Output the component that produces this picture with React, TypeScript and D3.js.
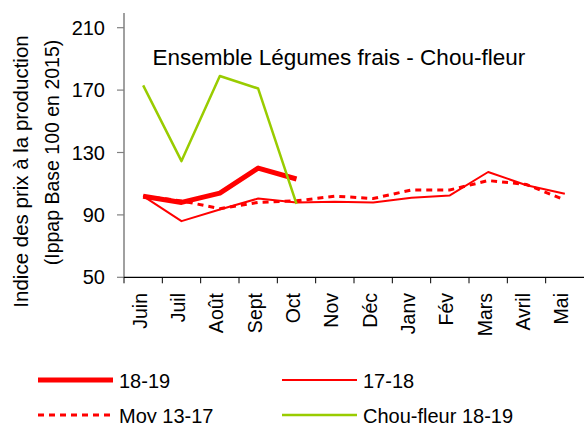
import React from 'react';
import * as d3 from 'd3';

const months = ['Juin', 'Juil', 'Août', 'Sept', 'Oct', 'Nov', 'Déc', 'Janv', 'Fév', 'Mars', 'Avril', 'Mai'];
const s1819 = [102, 98, 104, 120, 113];
const s1718 = [102, 86, 93.5, 100.5, 98, 98.5, 98, 101, 102.5, 117.5, 109, 103.5];
const moy1317 = [102, 99, 94, 98, 99, 102, 100.5, 106, 106, 112, 109.5, 99.5];
const chouFleur = [173, 124.5, 179, 171, 97];
const yTicks = [50, 90, 130, 170, 210];

const RED = '#ff0000';
const GREEN = '#99cc00';
const font = '"Liberation Sans", Arial, sans-serif';

const width = 584;
const height = 423;
const margin = { top: 27.7, left: 124, right: 0, bottom: 145.7 };

const App: React.FC = () => {
  const x = d3.scaleBand<string>()
    .domain(months)
    .range([margin.left, width - margin.right]);

  const y = d3.scaleLinear()
    .domain([50, 210])
    .range([height - margin.bottom, margin.top]);

  const cx = (i: number) => (x(months[i]) as number) + x.bandwidth() / 2;

  const line = d3.line<number>()
    .x((_, i) => cx(i))
    .y(d => y(d));

  const y0 = y(50);

  // legend entries: [label, color, width, dash, col, row]
  const legend = [
    { label: '18-19', color: RED, w: 5, dash: undefined, col: 0, row: 0 },
    { label: '17-18', color: RED, w: 2, dash: undefined, col: 1, row: 0 },
    { label: 'Moy 13-17', color: RED, w: 3, dash: '6,5', col: 0, row: 1 },
    { label: 'Chou-fleur 18-19', color: GREEN, w: 2.5, dash: undefined, col: 1, row: 1 },
  ];

  return (
    <div style={{ position: 'absolute', left: 0, top: 0 }}>
      <svg width={width} height={height} style={{ display: 'block', background: '#fff' }}>
        {/* y axis */}
        <line x1={margin.left} x2={margin.left} y1={13} y2={y0} stroke="#808080" strokeWidth={1.5} />
        {yTicks.map(t => (
          <g key={t}>
            <line x1={margin.left - 7} x2={margin.left} y1={y(t)} y2={y(t)} stroke="#808080" strokeWidth={1.2} />
            <text x={105} y={y(t)} dy="0.35em" textAnchor="end" fontFamily={font} fontSize={20} fill="#000">
              {t}
            </text>
          </g>
        ))}

        {/* x axis */}
        <line x1={margin.left} x2={width} y1={y0} y2={y0} stroke="#000" strokeWidth={1.2} />
        {months.map((m, i) => (
          <g key={m}>
            <line x1={x(m)} x2={x(m)} y1={y0} y2={y0 + 6} stroke="#000" strokeWidth={1} />
            <text
              transform={`translate(${cx(i) + 3.5},293) rotate(-90)`}
              textAnchor="end"
              fontFamily={font}
              fontSize={19.5}
              fill="#000"
            >
              {m}
            </text>
          </g>
        ))}

        {/* y label */}
        <text transform="translate(27.5,171.5) rotate(-90)" textAnchor="middle" fontFamily={font} fontSize={20.5} fill="#000">
          Indice des prix à la production
        </text>
        <text transform="translate(58.5,152.5) rotate(-90)" textAnchor="middle" fontFamily={font} fontSize={19.5} fill="#000">
          (Ippap Base 100 en 2015)
        </text>

        {/* title */}
        <text x={152.5} y={65} fontFamily={font} fontSize={22.5} fill="#000">
          Ensemble Légumes frais - Chou-fleur
        </text>

        {/* series */}
        <path d={line(s1718) ?? ''} fill="none" stroke={RED} strokeWidth={2} strokeLinejoin="round" />
        <path d={line(moy1317) ?? ''} fill="none" stroke={RED} strokeWidth={3} strokeDasharray="6,5" />
        <path d={line(s1819) ?? ''} fill="none" stroke={RED} strokeWidth={5} strokeLinejoin="round" />
        <path d={line(chouFleur) ?? ''} fill="none" stroke={GREEN} strokeWidth={2.5} strokeLinejoin="round" />

        {/* legend */}
        {legend.map(l => {
          const lx = l.col === 0 ? 38 : 282;
          const ly = l.row === 0 ? 380 : 415;
          return (
            <g key={l.label}>
              <line x1={lx} x2={lx + 75} y1={ly} y2={ly} stroke={l.color} strokeWidth={l.w} strokeDasharray={l.dash} />
              <text x={lx + 81} y={ly + 7.5} fontFamily={font} fontSize={20} fill="#000">
                {l.label}
              </text>
            </g>
          );
        })}
      </svg>
    </div>
  );
};

export default App;
